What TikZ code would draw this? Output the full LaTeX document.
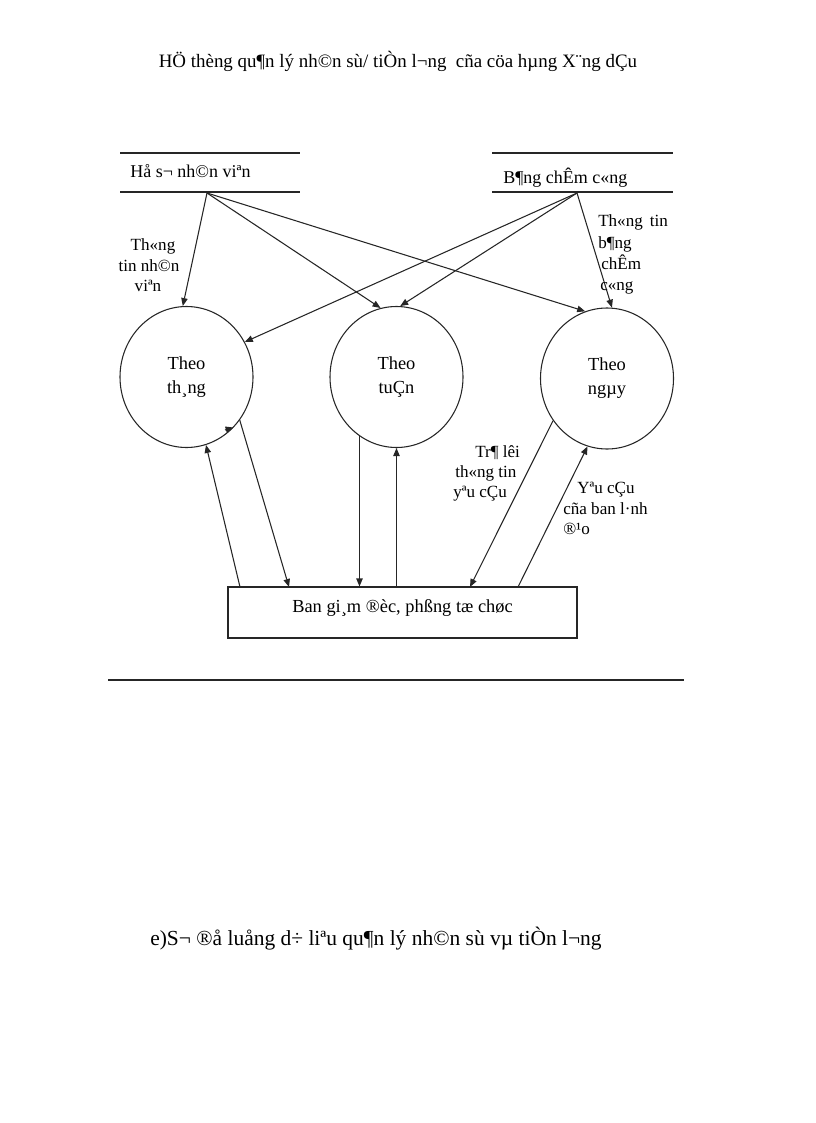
\documentclass[tikz,border=0pt]{standalone}
\usepackage{fontspec}
\setmainfont{Liberation Serif}
\usetikzlibrary{arrows.meta,shapes.geometric}
\tikzset{
  ln/.style={draw=black!85, line width=0.8pt},
  arr/.style={ln, -{Triangle[length=6pt,width=4.8pt]}},
  oval/.style={ellipse, draw=black!85, line width=0.8pt, minimum width=99.75pt, minimum height=105.75pt, inner sep=0pt, align=center, font=\fontsize{13.8}{18}\selectfont},
  lbl/.style={inner sep=0pt, anchor=base, font=\fontsize{12.8}{15}\selectfont},
  lblw/.style={lbl, anchor=base west},
  hdr/.style={inner sep=0pt, anchor=base west, font=\fontsize{13.5}{16}\selectfont},
}
\begin{document}
\begin{tikzpicture}[x=0.75pt,y=-0.75pt]
\useasboundingbox (0,0) rectangle (816,1123);
% title
\node[inner sep=0pt, font=\fontsize{14.2}{17}\selectfont] (title) at (398,61) {HÖ thèng qu¶n lý nh©n sù/ tiÒn l¬ng \ cña cöa hµng X¨ng dÇu};
% headers
\draw[ln] (120,153) -- (300,153) (120,192) -- (300,192);
\draw[ln] (492,153) -- (673,153) (492,192) -- (673,192);
\node[hdr] (hs) at (130,178) {Hå s¬ nh©n viªn};
\node[hdr] (bc) at (503,184) {B¶ng chÊm c«ng};
\coordinate (hsp) at (207,193);
\coordinate (bcp) at (577,193);
% ovals
\node[oval] (c1) at (186.5,377) {Theo\\th¸ng};
\node[oval] (c2) at (396.5,377) {Theo\\tuÇn};
\node[oval] (c3) at (607,378.5) {Theo\\ngµy};
% bottom box
\node[draw=black!85, line width=0.8pt, minimum width=261.75pt, minimum height=38.25pt, inner sep=0pt, font=\fontsize{13.8}{16}\selectfont] (box) at (402.5,612.5) {\raisebox{10pt}{Ban gi¸m ®èc, phßng tæ chøc}};
% top arrows
\draw[arr] (hsp) -- (c1.93);
\draw[arr] (hsp) -- (c2.103);
\draw[arr] (hsp) -- (c3.108);
\draw[arr] (bcp) -- (c1.31);
\draw[arr] (bcp) -- (c2.87);
\draw[arr] (bcp) -- (c3.86);
% bottom arrows
\coordinate (b1) at (240,587);
\coordinate (b2) at (289,587);
\coordinate (b5) at (470,587);
\coordinate (b6) at (518,587);
\draw[arr] (b1) -- (c1.-74);
\draw[arr] (c1.-39) -- (b2);
\coordinate (st) at (225,430);
\draw[arr] (st) -- (c1.-47);
\draw[arr] (c2.-122) -- (c2.-122 |- box.north);
\draw[arr] (box.north -| c2.south) -- (c2.south);
\draw[arr] (c3.-142) -- (b5);
\draw[arr] (b6) -- (c3.-106);
% labels
\node[lbl] (l1a) at (153,250) {Th«ng};
\node[lbl] (l1b) at (149,271) {tin nh©n};
\node[lbl] (l1c) at (148,291) {viªn};
\node[lblw] (l2a) at (598,227) {Th«ng \,tin};
\node[lblw] (l2b) at (598,248) {b¶ng};
\node[lblw] (l2c) at (601,269) {chÊm};
\node[lblw] (l2d) at (600,290) {c«ng};
\node[lblw] (l3a) at (475,457) {Tr¶ lêi};
\node[lblw] (l3b) at (455,477) {th«ng tin};
\node[lblw] (l3c) at (453,497) {yªu cÇu};
\node[lblw] (l4a) at (577,493) {Yªu cÇu};
\node[lblw] (l4b) at (563,514) {cña ban l·nh};
\node[lblw] (l4c) at (563,534) {®¹o};
% rule and caption
\draw[ln] (108,680) -- (684,680);
\node[inner sep=0pt, anchor=base west, font=\fontsize{16.1}{19}\selectfont] (cap) at (150,945) {e)S¬ ®å luång d÷ liªu qu¶n lý nh©n sù vµ tiÒn l¬ng};
\end{tikzpicture}
\end{document}
